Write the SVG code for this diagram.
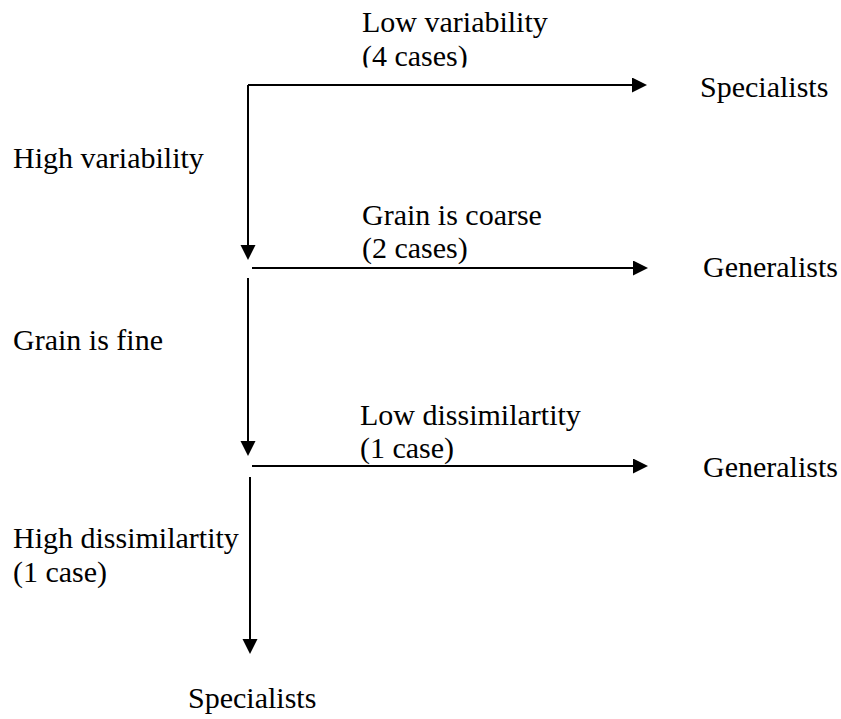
<svg xmlns="http://www.w3.org/2000/svg" width="841" height="719" viewBox="0 0 841 719">
<style>
.c { stroke: #000; stroke-width: 2; fill: none; }
</style>
<defs>
<marker id="ah" markerUnits="userSpaceOnUse" markerWidth="16" markerHeight="16" refX="4" refY="7.5" orient="auto">
<path d="M0,0 L15,7.5 L0,15 z" fill="#000"/>
</marker>
<clipPath id="clipTop"><rect x="0" y="0" width="841" height="67.5"/></clipPath>
</defs>
<rect width="841" height="719" fill="#fff"/>
<g id="connectors">
<path class="c" d="M248,85 H636" marker-end="url(#ah)"/>
<path class="c" d="M248,85 V249" marker-end="url(#ah)"/>
<path class="c" d="M252,268 H637" marker-end="url(#ah)"/>
<path class="c" d="M248,278 V445" marker-end="url(#ah)"/>
<path class="c" d="M252,466 H637" marker-end="url(#ah)"/>
<path class="c" d="M250,477 V643" marker-end="url(#ah)"/>
</g>
<g id="label-low-variability" clip-path="url(#clipTop)">
<text font-family="Liberation Serif" font-size="30" x="362" y="32">Low variability</text>
<text font-family="Liberation Serif" font-size="30" x="362" y="66">(4 cases)</text>
</g>
<g id="node-specialists-1"><text font-family="Liberation Serif" font-size="30" x="700" y="97">Specialists</text></g>
<g id="label-high-variability"><text font-family="Liberation Serif" font-size="30" x="13" y="168">High variability</text></g>
<g id="label-grain-coarse">
<text font-family="Liberation Serif" font-size="30" x="362" y="225">Grain is coarse</text>
<text font-family="Liberation Serif" font-size="30" x="362" y="258">(2 cases)</text>
</g>
<g id="node-generalists-1"><text font-family="Liberation Serif" font-size="30" x="703" y="277">Generalists</text></g>
<g id="label-grain-fine"><text font-family="Liberation Serif" font-size="30" x="13" y="350">Grain is fine</text></g>
<g id="label-low-dissimilarity">
<text font-family="Liberation Serif" font-size="30" x="360" y="425">Low dissimilartity</text>
<text font-family="Liberation Serif" font-size="30" x="360" y="458">(1 case)</text>
</g>
<g id="node-generalists-2"><text font-family="Liberation Serif" font-size="30" x="703" y="477">Generalists</text></g>
<g id="label-high-dissimilarity">
<text font-family="Liberation Serif" font-size="30" x="13" y="548">High dissimilartity</text>
<text font-family="Liberation Serif" font-size="30" x="13" y="582">(1 case)</text>
</g>
<g id="node-specialists-2"><text font-family="Liberation Serif" font-size="30" x="188" y="708">Specialists</text></g>
</svg>
